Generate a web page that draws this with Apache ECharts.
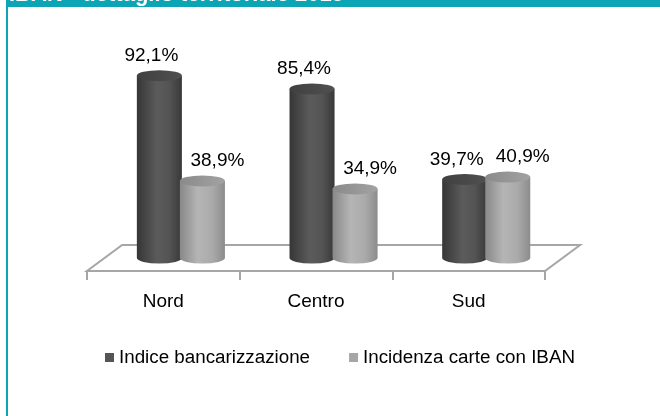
<!DOCTYPE html>
<html>
<head>
<meta charset="utf-8">
<script src="https://cdn.jsdelivr.net/npm/echarts@6/dist/echarts.min.js"></script>
<style>
html,body{margin:0;padding:0;background:#fff;}
#chart{width:660px;height:416px;}
</style>
</head>
<body>
<div id="chart"></div>
<script>
const titleText = 'IBAN - dettaglio territoriale 2015';
const categories = ['Nord', 'Centro', 'Sud'];
const seriesNames = ['Indice bancarizzazione', 'Incidenza carte con IBAN'];
const indiceBancarizzazione = [92.1, 85.4, 39.7];
const incidenzaCarteIBAN = [38.9, 34.9, 40.9];

const FONT = 'Liberation Sans';
const TEAL = '#0BA5B5';

const chart = echarts.init(document.getElementById('chart'), null, {renderer: 'canvas'});

const palettes = [
  {
    body: new echarts.graphic.LinearGradient(0, 0, 1, 0, [
      {offset: 0, color: '#363636'},
      {offset: 0.45, color: '#5b5b5b'},
      {offset: 0.72, color: '#545454'},
      {offset: 1, color: '#383838'}
    ]),
    top: new echarts.graphic.LinearGradient(0, 0, 1, 0, [
      {offset: 0, color: '#404040'},
      {offset: 1, color: '#505050'}
    ]),
    legend: '#555555',
    labelDx: -8
  },
  {
    body: new echarts.graphic.LinearGradient(0, 0, 1, 0, [
      {offset: 0, color: '#888888'},
      {offset: 0.4, color: '#b5b5b5'},
      {offset: 0.72, color: '#aaaaaa'},
      {offset: 1, color: '#8c8c8c'}
    ]),
    top: new echarts.graphic.LinearGradient(0, 0, 1, 0, [
      {offset: 0, color: '#8a8a8a'},
      {offset: 1, color: '#a2a2a2'}
    ]),
    legend: '#a6a6a6',
    labelDx: 15
  }
];

const DEPTH_RATIO = 0.23;   // floor depth as fraction of band width (x)
const DEPTH_Y = 26;          // floor depth (y)
const CYL_RATIO = 0.295;     // cylinder width as fraction of band width
const RY = 5.5;

function fmt(v) { return v.toFixed(1).replace('.', ',') + '%'; }

function makeCylinder(si) {
  return function (params, api) {
    const idx = api.value(0);
    const val = api.value(1);
    const base = api.coord([idx, 0]);
    const top = api.coord([idx, val]);
    const band = api.size([1, 0])[0];
    const dx = band * DEPTH_RATIO / 2;
    const dy = DEPTH_Y / 2;
    const w = band * CYL_RATIO;
    const cx = base[0] + dx + (si === 0 ? -w / 2 + 1 : w / 2 - 1);
    const yb = base[1] - dy;
    const yt = top[1] - dy;
    const l = cx - w / 2, r = cx + w / 2, rx = w / 2;
    const p = palettes[si];
    const bodyPath = 'M' + l + ' ' + yt + ' L' + l + ' ' + yb +
      ' A' + rx + ' ' + RY + ' 0 0 0 ' + r + ' ' + yb +
      ' L' + r + ' ' + yt + ' Z';
    const topPath = 'M' + l + ' ' + yt +
      ' A' + rx + ' ' + RY + ' 0 1 0 ' + r + ' ' + yt +
      ' A' + rx + ' ' + RY + ' 0 1 0 ' + l + ' ' + yt + ' Z';
    return {
      type: 'group',
      children: [
        {type: 'path', shape: {pathData: bodyPath}, style: {fill: p.body}},
        {type: 'path', shape: {pathData: topPath}, style: {fill: p.top}},
        {
          type: 'text',
          style: {
            text: fmt(val), x: cx + p.labelDx, y: yt - 20,
            align: 'center', verticalAlign: 'middle',
            font: '19px "' + FONT + '"', fill: '#000'
          }
        }
      ]
    };
  };
}

function renderFloor(params, api) {
  const cs = params.coordSys;
  const band = api.size([1, 0])[0];
  const dx = band * DEPTH_RATIO;
  const x0 = cs.x, x1 = cs.x + cs.width, y0 = cs.y + cs.height;
  return {
    type: 'polygon',
    shape: {points: [[x0, y0], [x1, y0], [x1 + dx, y0 - DEPTH_Y], [x0 + dx, y0 - DEPTH_Y]]},
    style: {fill: '#ffffff', stroke: '#a6a6a6', lineWidth: 2}
  };
}

const seriesData = [indiceBancarizzazione, incidenzaCarteIBAN];

const option = {
  animation: false,
  backgroundColor: '#ffffff',
  grid: {left: 87, right: 115, top: 73, bottom: 145},
  xAxis: {
    type: 'category',
    data: categories,
    boundaryGap: true,
    axisLine: {show: true, lineStyle: {color: '#a6a6a6', width: 2}},
    axisTick: {show: true, length: 9, lineStyle: {color: '#a6a6a6', width: 2}},
    axisLabel: {color: '#000', fontSize: 19, fontFamily: FONT, margin: 21},
    z: 3
  },
  yAxis: {type: 'value', min: 0, max: 100, show: false, splitLine: {show: false}},
  legend: {
    data: seriesNames,
    left: 100,
    top: 343,
    icon: 'rect',
    itemWidth: 9,
    itemHeight: 9,
    itemGap: 39,
    textStyle: {color: '#000', fontSize: 18.8, fontFamily: FONT}
  },
  graphic: [
    {type: 'rect', left: 6, top: 0, shape: {width: 2, height: 416}, style: {fill: TEAL}, z: 10},
    {type: 'rect', left: 6, top: 0, shape: {width: 654, height: 7}, style: {fill: TEAL}, z: 10},
    {
      type: 'text', x: 9, y: 6, z: 11,
      style: {text: titleText, font: 'bold 22px "' + FONT + '"', fill: '#ffffff', verticalAlign: 'bottom'}
    }
  ],
  series: [
    {
      type: 'custom', name: '_floor', data: [[0, 0]], renderItem: renderFloor,
      silent: true, z: 1
    }
  ].concat(seriesData.map(function (arr, si) {
    return {
      type: 'custom',
      name: seriesNames[si],
      itemStyle: {color: palettes[si].legend},
      data: arr.map(function (v, i) { return [i, v]; }),
      encode: {x: 0, y: 1},
      renderItem: makeCylinder(si),
      z: 5
    };
  }))
};

chart.setOption(option);
</script>
</body>
</html>
